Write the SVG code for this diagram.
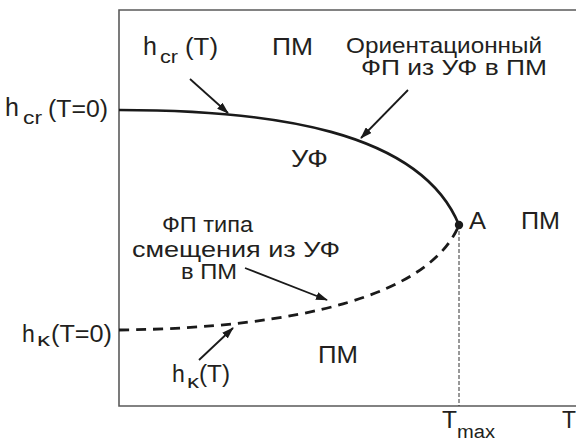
<svg xmlns="http://www.w3.org/2000/svg" width="576" height="441" viewBox="0 0 576 441">
<style>
text{font-family:"Liberation Sans",Arial,sans-serif;fill:#231f20;}
.t{font-size:23px;}
.m{font-size:22px;}
.sub{font-size:18px;}
.k{font-size:18px;}
.axis{stroke:#5a5a5a;stroke-width:1.6;fill:none;}
.curve{stroke:#1a1a1a;stroke-width:2.6;fill:none;}
.dash{stroke:#1a1a1a;stroke-width:2.8;fill:none;stroke-dasharray:10 7;}
.vdash{stroke:#333;stroke-width:1;fill:none;stroke-dasharray:4 2;}
.arr{stroke:#1a1a1a;stroke-width:1.8;fill:none;marker-end:url(#ah);}
</style>
<defs>
<marker id="ah" markerUnits="userSpaceOnUse" markerWidth="12" markerHeight="8" refX="11" refY="4" orient="auto">
<path d="M0,0 L12,4 L0,8 z" fill="#1a1a1a"/>
</marker>
</defs>
<g id="axes">
<path class="axis" d="M576,10 H119 V406 H576"/>
</g>
<g id="curves">
<path class="curve" d="M119,110 C270,110 420,130 459,225"/>
<path class="dash" d="M119,330 C300,328 430,295 459,225"/>
<path class="vdash" d="M459,225 V406"/>
<circle cx="459" cy="225" r="4.2" fill="#1a1a1a"/>
</g>
<g id="connectors">
<line class="arr" x1="190" y1="79" x2="228" y2="113"/>
<line class="arr" x1="408" y1="90" x2="361" y2="138"/>
<line class="arr" x1="245" y1="268" x2="327" y2="300"/>
<line class="arr" x1="199" y1="360" x2="233" y2="328"/>
</g>
<g id="labels">
<text class="t" x="5" y="116" style="font-size:25px">h</text>
<text class="sub" x="23" y="124" textLength="19" lengthAdjust="spacingAndGlyphs">cr</text>
<text class="t" x="48" y="117" textLength="60" lengthAdjust="spacingAndGlyphs">(T=0)</text>

<text class="t" x="143" y="55" style="font-size:25px">h</text>
<text class="sub" x="160" y="63" textLength="18" lengthAdjust="spacingAndGlyphs">cr</text>
<text class="t" x="185" y="55" textLength="33" lengthAdjust="spacingAndGlyphs">(T)</text>

<text class="t" x="272" y="55" textLength="41" lengthAdjust="spacingAndGlyphs">ПМ</text>
<text class="m" x="346" y="53" textLength="196" lengthAdjust="spacingAndGlyphs">Ориентационный</text>
<text class="m" x="361" y="75" textLength="186" lengthAdjust="spacingAndGlyphs">ФП из УФ в ПМ</text>

<text class="t" x="291" y="167" textLength="37" lengthAdjust="spacingAndGlyphs">УФ</text>
<text class="t" x="469" y="229" textLength="17" lengthAdjust="spacingAndGlyphs">A</text>
<text class="t" x="521" y="229" textLength="39" lengthAdjust="spacingAndGlyphs">ПМ</text>

<text class="m" x="162" y="232" textLength="91" lengthAdjust="spacingAndGlyphs">ФП типа</text>
<text class="m" x="132" y="257" textLength="208" lengthAdjust="spacingAndGlyphs">смещения из УФ</text>
<text class="m" x="181" y="279" textLength="56" lengthAdjust="spacingAndGlyphs">в ПМ</text>

<text class="t" x="318" y="363" textLength="40" lengthAdjust="spacingAndGlyphs">ПМ</text>

<text class="t" x="22" y="342">h</text>
<text class="k" x="37" y="346" textLength="13" lengthAdjust="spacingAndGlyphs">κ</text>
<text class="t" x="51" y="342" textLength="61" lengthAdjust="spacingAndGlyphs">(T=0)</text>

<text class="t" x="172" y="382">h</text>
<text class="k" x="187" y="388" textLength="12" lengthAdjust="spacingAndGlyphs">κ</text>
<text class="t" x="199" y="382" textLength="31" lengthAdjust="spacingAndGlyphs">(T)</text>

<text class="t" x="442" y="428" textLength="15" lengthAdjust="spacingAndGlyphs">T</text>
<text class="sub" x="457" y="438" textLength="38" lengthAdjust="spacingAndGlyphs">max</text>
<text class="t" x="562" y="428" textLength="14" lengthAdjust="spacingAndGlyphs">T</text>
</g>
</svg>
